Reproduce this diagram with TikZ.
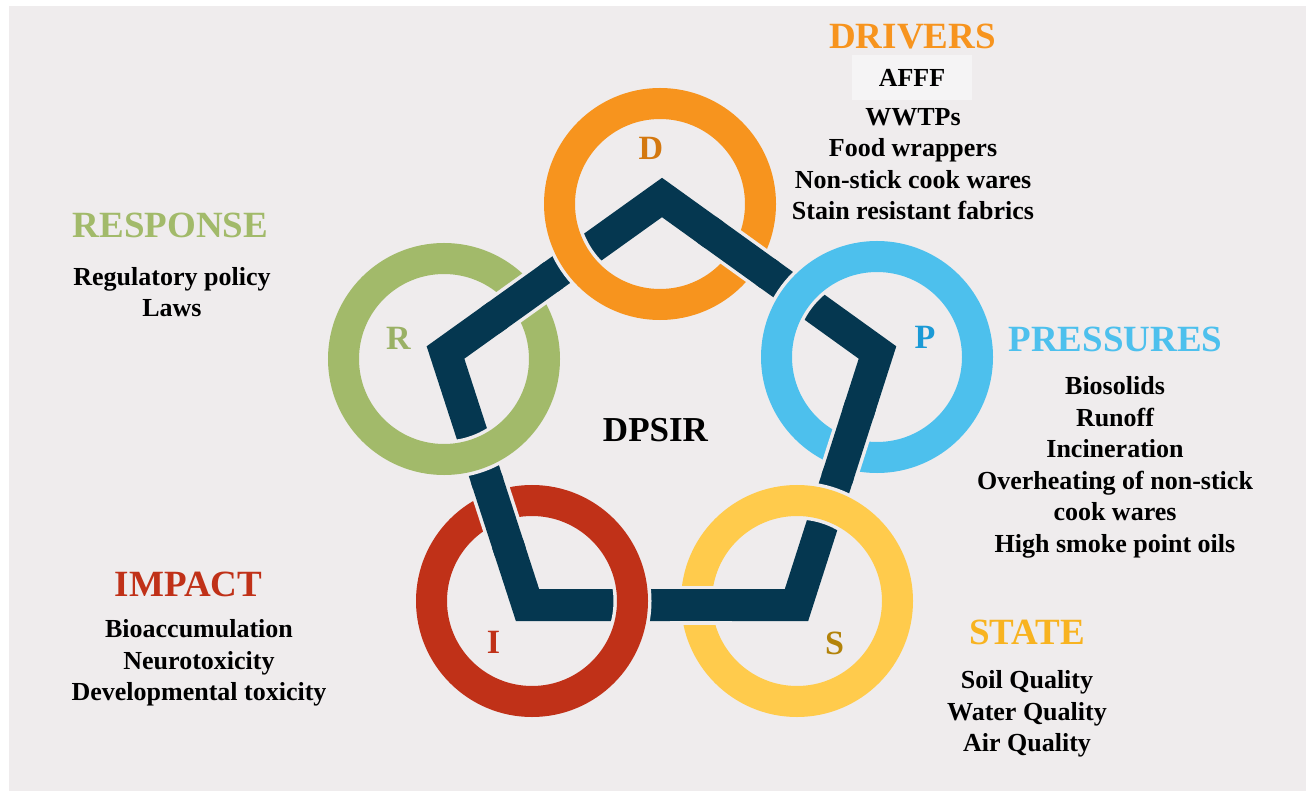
\documentclass[tikz,border=0pt]{standalone}
\usepackage{fontspec}
\setmainfont{Liberation Serif}
\usetikzlibrary{calc}

\definecolor{bg}{HTML}{EFECED}
\definecolor{boxbg}{HTML}{F5F4F5}
\definecolor{navy}{HTML}{053750}
\definecolor{dorange}{HTML}{F7941E}
\definecolor{pblue}{HTML}{4DC0ED}
\definecolor{syellow}{HTML}{FFCB4C}
\definecolor{ired}{HTML}{C03118}
\definecolor{rgreen}{HTML}{A2BA6A}
\definecolor{dletter}{HTML}{D4780F}
\definecolor{pletter}{HTML}{1B9AD6}
\definecolor{sletter}{HTML}{B3830A}
\definecolor{sheading}{HTML}{F8B320}

\begin{document}
\begin{tikzpicture}[x=1pt, y=-1pt,
    ring/.style={circle, draw=bg, line width=3.5pt, double=#1, double distance=31pt, minimum size=201pt, inner sep=0pt},
    bar/.style={navy, line width=32pt, line join=miter},
    gapbar/.style={bg, line width=39pt},
    head/.style={text=#1, font=\fontsize{37}{40}\selectfont\bfseries},
    letter/.style={text=#1, font=\fontsize{34}{36}\selectfont\bfseries},
    items/.style={align=center, font=\fontsize{26}{31.5}\selectfont\bfseries}]
    \useasboundingbox (0,0) rectangle (1306,791);
    \fill[white] (0,0) rectangle (1306,791);
    \fill[bg] (9,6) rectangle (1306,791);

    % pentagon corners
    \coordinate (vD) at (662,197.5);
    \coordinate (vP) at (877.5,352.5);
    \coordinate (vS) at (796.5,605);
    \coordinate (vI) at (527.5,605);
    \coordinate (vR) at (445.5,352.5);
    \draw[bar] (vD) -- (vP) -- (vS) -- (vI) -- (vR) -- cycle;

    % rings
    \node[ring=dorange] (rD) at (660,204) {};
    \node[ring=pblue] (rP) at (877,357) {};
    \node[ring=syellow] (rS) at (797,601) {};
    \node[ring=ired] (rI) at (532,601) {};
    \node[ring=rgreen] (rR) at (444,359) {};

    % bars leaving each ring go over it
    \draw[gapbar] ($(vD)!65pt!(vP)$) -- ($(vD)!127pt!(vP)$);
    \draw[bar] ($(vD)!55pt!(vP)$) -- ($(vD)!133pt!(vP)$);
    \draw[gapbar] ($(vP)!65pt!(vS)$) -- ($(vP)!127pt!(vS)$);
    \draw[bar] ($(vP)!55pt!(vS)$) -- ($(vP)!133pt!(vS)$);
    \draw[gapbar] ($(vS)!65pt!(vI)$) -- ($(vS)!127pt!(vI)$);
    \draw[bar] ($(vS)!55pt!(vI)$) -- ($(vS)!133pt!(vI)$);
    \draw[gapbar] ($(vI)!65pt!(vR)$) -- ($(vI)!127pt!(vR)$);
    \draw[bar] ($(vI)!55pt!(vR)$) -- ($(vI)!133pt!(vR)$);
    \draw[gapbar] ($(vR)!65pt!(vD)$) -- ($(vR)!127pt!(vD)$);
    \draw[bar] ($(vR)!55pt!(vD)$) -- ($(vR)!133pt!(vD)$);

    % letters
    \node[letter=dletter] (lD) at (651,148.5) {D};
    \node[letter=pletter] (lP) at (925,337.5) {P};
    \node[letter=sletter] (lS) at (834.5,643) {S};
    \node[letter=ired] (lI) at (493.5,642.5) {I};
    \node[letter=rgreen!95!black] (lR) at (398.5,338) {R};
    \node[items, font=\fontsize{35}{38}\selectfont\bfseries] (dpsir) at (655.5,430.5) {DPSIR};

    % headings and lists
    \node[head=dorange] (drivers) at (912.5,36.5) {DRIVERS};
    \node[items, fill=boxbg, minimum width=120pt, minimum height=45pt] (afff) at (912,78) {AFFF};
    \node[items] (drvlist) at (913,164) {WWTPs\\Food wrappers\\Non-stick cook wares\\Stain resistant fabrics};

    \node[head=pblue] (pressures) at (1115.5,339) {PRESSURES};
    \node[items] (prslist) at (1115,467.5) {Biosolids\\Runoff\\Incineration\\Overheating of non-stick\\cook wares\\High smoke point oils};

    \node[head=sheading] (state) at (1027,632.5) {STATE};
    \node[items] (stlist) at (1027,714) {Soil Quality\\Water Quality\\Air Quality};

    \node[head=ired] (impact) at (188.5,584.5) {IMPACT};
    \node[items] (implist) at (199,663) {Bioaccumulation\\Neurotoxicity\\Developmental toxicity};

    \node[head=rgreen] (response) at (170.5,225.5) {RESPONSE};
    \node[items] (reslist) at (172,292) {Regulatory policy\\Laws};
\end{tikzpicture}
\end{document}
